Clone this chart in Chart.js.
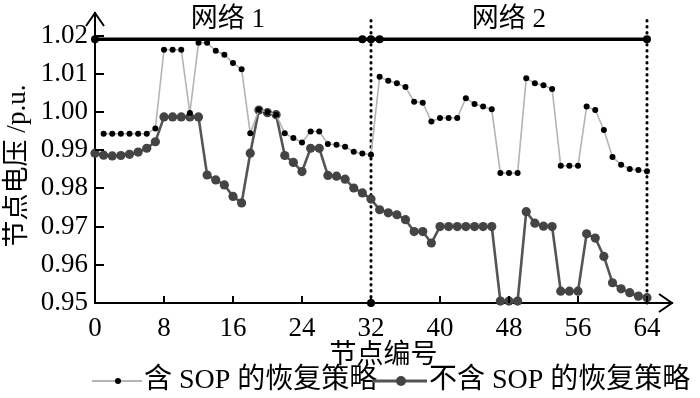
<!DOCTYPE html>
<html>
<head>
<meta charset="utf-8">
<script src="https://cdn.jsdelivr.net/npm/chart.js@4/dist/chart.umd.min.js"></script>
<style>
  html, body { margin: 0; padding: 0; background: #fff; }
</style>
</head>
<body>
<canvas id="chart1" width="700" height="398"></canvas>
<script>
// node numbers 0..64 (network 1: 0-32, network 2: 33-64)
const nodes = Array.from({ length: 65 }, (_, i) => i);

// 含 SOP 的恢复策略 (node 0 has no marker)
const sopVoltage = [
  null, 0.9943, 0.9943, 0.9943, 0.9943, 0.9943, 0.9943, 0.9957,
  1.0163, 1.0163, 1.0163, 0.9997, 1.0181, 1.0181, 1.0160, 1.0150,
  1.0128, 1.0112, 0.9944, 1.0006, 0.9999, 0.9993, 0.9944, 0.9932,
  0.9920, 0.9949, 0.9949, 0.9916, 0.9914, 0.9909, 0.9896, 0.9891,
  0.9888, 1.0092, 1.0082, 1.0075, 1.0065, 1.0027, 1.0024, 0.9975,
  0.9984, 0.9984, 0.9984, 1.0036, 1.0021, 1.0014, 1.0007, 0.9840,
  0.9840, 0.9840, 1.0088, 1.0075, 1.0070, 1.0060, 0.9859, 0.9859,
  0.9859, 1.0014, 1.0005, 0.9953, 0.9882, 0.9862, 0.9851, 0.9848,
  0.9845
];

// 不含 SOP 的恢复策略
const noSopVoltage = [
  0.9892, 0.9887, 0.9885, 0.9886, 0.9889, 0.9895, 0.9905, 0.9922,
  0.9987, 0.9987, 0.9987, 0.9987, 0.9987, 0.9835, 0.9822, 0.9809,
  0.9779, 0.9762, 0.9892, 1.0005, 0.9998, 0.9993, 0.9886, 0.9868,
  0.9844, 0.9905, 0.9905, 0.9834, 0.9832, 0.9824, 0.9801, 0.9788,
  0.9772, 0.9744, 0.9736, 0.9731, 0.9718, 0.9687, 0.9687, 0.9657,
  0.9700, 0.9700, 0.9700, 0.9700, 0.9700, 0.9700, 0.9700, 0.9505,
  0.9505, 0.9505, 0.9739, 0.9709, 0.9701, 0.9700, 0.9531, 0.9531,
  0.9531, 0.9681, 0.9670, 0.9622, 0.9553, 0.9537, 0.9527, 0.9518,
  0.9514
];

// upper voltage line with its marked nodes
const upperNodes = [0, 31, 32, 33, 64];
const upperVoltage = 1.019;

// network boundaries (dotted lines)
const boundaryNodes = [32, 64];
const boundaryTop = 1.0245;

const xTicks = [0, 8, 16, 24, 32, 40, 48, 56, 64];
const yTicks = [0.95, 0.96, 0.97, 0.98, 0.99, 1.00, 1.01, 1.02];

const seriesNames = ['含 SOP 的恢复策略', '不含 SOP 的恢复策略'];
const networkNames = ['网络 1', '网络 2'];
const networkCenters = [15.4, 48];
const xTitle = '节点编号';
const yTitle = '节点电压 /p.u.';

const serif = "'Liberation Serif', 'Noto Sans CJK SC', serif";

function toPoints(values) {
  return nodes.map((n, i) => ({ x: n, y: values[i] }));
}

const datasets = [
  {
    label: seriesNames[0],
    data: toPoints(sopVoltage),
    borderColor: '#b4b4b4',
    borderWidth: 1.6,
    pointRadius: 3,
    pointBackgroundColor: '#000',
    pointBorderWidth: 0,
    clip: false
  },
  {
    label: seriesNames[1],
    data: toPoints(noSopVoltage),
    borderColor: '#555',
    borderWidth: 2.6,
    pointRadius: 4.6,
    pointBackgroundColor: '#444',
    pointBorderWidth: 0,
    clip: false
  },
  {
    label: 'upper',
    data: upperNodes.map(n => ({ x: n, y: upperVoltage })),
    borderColor: '#000',
    borderWidth: 3.5,
    pointRadius: 4,
    pointBackgroundColor: '#000',
    pointBorderWidth: 0,
    clip: false
  }
];

boundaryNodes.forEach((n, i) => {
  datasets.push({
    label: 'boundary' + i,
    data: [{ x: n, y: 0.95 }, { x: n, y: boundaryTop }],
    borderColor: '#000',
    borderWidth: 3,
    borderDash: [0.5, 5.5],
    borderCapStyle: 'round',
    pointRadius: i === 0 ? [4, 0] : 0,
    pointBackgroundColor: '#000',
    pointBorderWidth: 0,
    clip: false
  });
});

const decor = {
  id: 'decor',
  afterDraw(chart) {
    const ctx = chart.ctx;
    const xs = chart.scales.x;
    const ys = chart.scales.y;
    const area = chart.chartArea;
    ctx.save();
    ctx.strokeStyle = '#000';
    ctx.lineWidth = 2;
    // inward tick marks
    xTicks.forEach(v => {
      if (v === 0) return;
      const px = Math.round(xs.getPixelForValue(v));
      ctx.beginPath();
      ctx.moveTo(px, area.bottom);
      ctx.lineTo(px, area.bottom - 7);
      ctx.stroke();
    });
    yTicks.forEach(v => {
      if (v === 0.95) return;
      const py = Math.round(ys.getPixelForValue(v));
      ctx.beginPath();
      ctx.moveTo(area.left, py);
      ctx.lineTo(area.left + 9, py);
      ctx.stroke();
    });
    // axis arrows
    ctx.beginPath();
    ctx.moveTo(area.left - 9, area.top + 13);
    ctx.lineTo(area.left, area.top);
    ctx.lineTo(area.left + 9, area.top + 13);
    ctx.stroke();
    ctx.beginPath();
    ctx.moveTo(area.right - 13, area.bottom - 9);
    ctx.lineTo(area.right, area.bottom);
    ctx.lineTo(area.right - 13, area.bottom + 9);
    ctx.stroke();

    ctx.fillStyle = '#000';
    ctx.textBaseline = 'middle';

    // y axis title
    ctx.font = '27px ' + serif;
    ctx.textAlign = 'center';
    ctx.save();
    ctx.translate(18, 166);
    ctx.rotate(-Math.PI / 2);
    ctx.fillText(yTitle, 0, 0);
    ctx.restore();

    // network labels
    networkNames.forEach((t, i) => {
      ctx.fillText(t, xs.getPixelForValue(networkCenters[i]), 20);
    });

    // legend
    const ly = 381;
    ctx.font = '28px ' + serif;
    ctx.textAlign = 'left';
    ctx.strokeStyle = '#b4b4b4';
    ctx.lineWidth = 2;
    ctx.beginPath();
    ctx.moveTo(92, ly);
    ctx.lineTo(142, ly);
    ctx.stroke();
    ctx.fillStyle = '#000';
    ctx.beginPath();
    ctx.arc(118, ly, 3, 0, Math.PI * 2);
    ctx.fill();
    ctx.fillText(seriesNames[0], 144, ly);

    ctx.strokeStyle = '#555';
    ctx.lineWidth = 3;
    ctx.beginPath();
    ctx.moveTo(372, ly);
    ctx.lineTo(427, ly);
    ctx.stroke();
    ctx.fillStyle = '#444';
    ctx.beginPath();
    ctx.arc(401, ly, 5, 0, Math.PI * 2);
    ctx.fill();
    ctx.fillStyle = '#000';
    ctx.fillText(seriesNames[1], 429, ly);
    ctx.restore();
  }
};

new Chart(document.getElementById('chart1'), {
  type: 'line',
  data: { datasets: datasets },
  options: {
    responsive: false,
    animation: false,
    layout: { padding: { left: 0, right: 28, top: 13, bottom: 26 } },
    plugins: {
      legend: { display: false },
      tooltip: { enabled: false }
    },
    scales: {
      x: {
        type: 'linear',
        min: 0,
        max: 66.9,
        grid: { display: false, drawTicks: false },
        border: { color: '#000', width: 2 },
        ticks: {
          color: '#000',
          font: { family: serif, size: 27 },
          padding: 10,
          maxRotation: 0,
          autoSkip: false
        },
        afterBuildTicks: s => { s.ticks = xTicks.map(v => ({ value: v })); },
        afterFit: s => { s.height = 69; s.paddingLeft = 0; s.paddingRight = 0; },
        title: {
          display: true,
          text: xTitle,
          color: '#000',
          font: { family: serif, size: 27 },
          padding: 0
        }
      },
      y: {
        min: 0.95,
        max: 1.0259,
        grid: { display: false, drawTicks: false },
        border: { color: '#000', width: 2 },
        ticks: {
          color: '#000',
          font: { family: serif, size: 27 },
          padding: 7,
          callback: v => v.toFixed(2)
        },
        afterBuildTicks: s => { s.ticks = yTicks.map(v => ({ value: v })); },
        afterFit: s => { s.width = 95; s.paddingTop = 0; s.paddingBottom = 0; }
      }
    }
  },
  plugins: [decor]
});
</script>
</body>
</html>
